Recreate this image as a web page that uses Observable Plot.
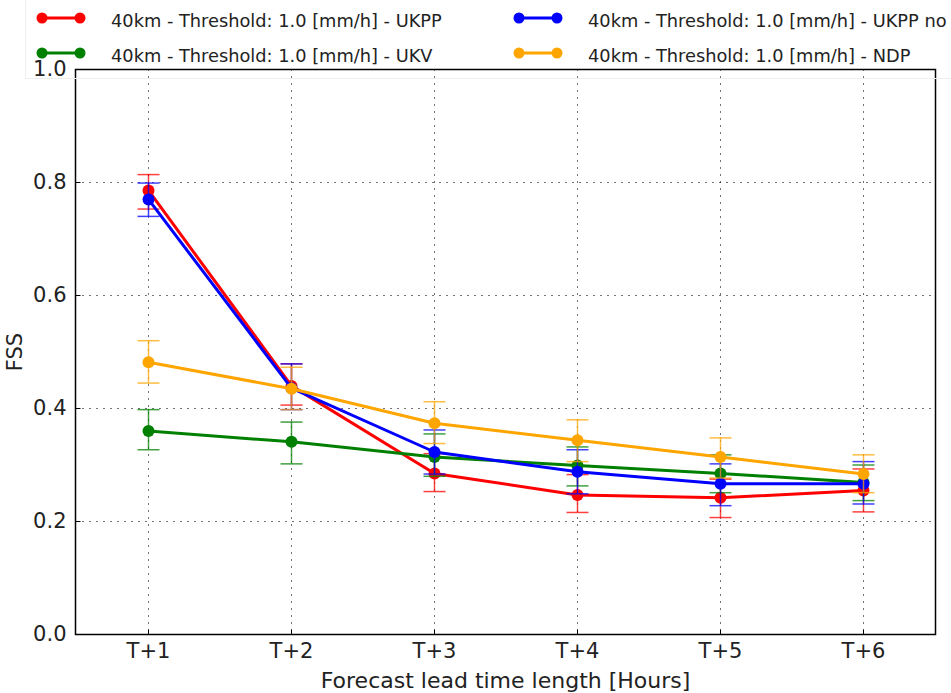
<!DOCTYPE html>
<html><head><meta charset="utf-8">
<script src="https://cdn.jsdelivr.net/npm/d3@7"></script>
<script src="https://cdn.jsdelivr.net/npm/@observablehq/plot@0.6"></script>
<style>
html,body{margin:0;padding:0;background:#fff;overflow:hidden;}
#wrap{position:relative;width:951px;height:693px;overflow:hidden;font-family:"DejaVu Sans",sans-serif;}
#legend{position:absolute;left:0;top:0;width:951px;height:80px;z-index:2;pointer-events:none;overflow:hidden;}
.item{position:absolute;white-space:nowrap;font-size:17.8px;color:#222;line-height:20px;}
.box{position:absolute;left:25px;top:-2px;width:1000px;height:79px;border:1px solid #eeeeee;}
</style></head>
<body><div id="wrap"><div id="legend"><div class="box"></div></div><div id="chart"></div></div>
<script>
const cats = ["T+1","T+2","T+3","T+4","T+5","T+6"];
const yTicks = [0,0.2,0.4,0.6,0.8,1.0];

const ukppName = "40km - Threshold: 1.0 [mm/h] - UKPP";
const ukpp   = [0.786, 0.440, 0.285, 0.247, 0.242, 0.255];
const ukppLo = [0.753, 0.406, 0.253, 0.216, 0.207, 0.217];
const ukppHi = [0.814, 0.479, 0.320, 0.283, 0.275, 0.293];

const ukvName = "40km - Threshold: 1.0 [mm/h] - UKV";
const ukv   = [0.360, 0.341, 0.314, 0.299, 0.285, 0.269];
const ukvLo = [0.327, 0.302, 0.280, 0.263, 0.251, 0.237];
const ukvHi = [0.398, 0.376, 0.355, 0.332, 0.318, 0.300];

const nowName = "40km - Threshold: 1.0 [mm/h] - UKPP no";
const now   = [0.770, 0.436, 0.323, 0.288, 0.267, 0.267];
const nowLo = [0.740, 0.398, 0.284, 0.249, 0.228, 0.231];
const nowHi = [0.799, 0.479, 0.362, 0.327, 0.302, 0.306];

const ndpName = "40km - Threshold: 1.0 [mm/h] - NDP";
const ndp   = [0.482, 0.435, 0.374, 0.344, 0.314, 0.284];
const ndpLo = [0.445, 0.398, 0.338, 0.306, 0.277, 0.251];
const ndpHi = [0.520, 0.473, 0.412, 0.380, 0.348, 0.318];

const series = [
  {name: ukppName, color: "#ff0000", v: ukpp, lo: ukppLo, hi: ukppHi},
  {name: ukvName,  color: "#008000", v: ukv,  lo: ukvLo,  hi: ukvHi},
  {name: nowName,  color: "#0000ff", v: now,  lo: nowLo,  hi: nowHi},
  {name: ndpName,  color: "#ffa500", v: ndp,  lo: ndpLo,  hi: ndpHi}
];

const capSym = {draw(ctx, size){ const r = Math.sqrt(size/Math.PI); ctx.moveTo(-r,0); ctx.lineTo(r,0); }};
const yTickSym = {draw(ctx, size){ const r = Math.sqrt(size/Math.PI); ctx.moveTo(0,0); ctx.lineTo(r,0); }};
const xTickSym = {draw(ctx, size){ const r = Math.sqrt(size/Math.PI); ctx.moveTo(0,0); ctx.lineTo(0,-r); }};

const marks = [
  Plot.gridY(yTicks, {stroke:"#000", strokeOpacity:0.55, strokeDasharray:"2,5", strokeWidth:1}),
  Plot.gridX(cats, {stroke:"#000", strokeOpacity:0.55, strokeDasharray:"2,5", strokeWidth:1})
];
for (const s of series) {
  const data = cats.map((c,i) => ({cat:c, v:s.v[i], lo:s.lo[i], hi:s.hi[i]}));
  marks.push(
    Plot.ruleX(data, {x:"cat", y1:"lo", y2:"hi", stroke:s.color, strokeWidth:1.5, strokeOpacity:0.75}),
    Plot.dot(data, {x:"cat", y:"lo", symbol:capSym, r:11, stroke:s.color, fill:"none", strokeWidth:1.5, strokeOpacity:0.75}),
    Plot.dot(data, {x:"cat", y:"hi", symbol:capSym, r:11, stroke:s.color, fill:"none", strokeWidth:1.5, strokeOpacity:0.75}),
    Plot.line(data, {x:"cat", y:"v", stroke:s.color, strokeWidth:3}),
    Plot.dot(data, {x:"cat", y:"v", r:6, fill:s.color, stroke:"none"})
  );
}
marks.push(
  Plot.dot(yTicks, {y:d=>d, frameAnchor:"left", symbol:yTickSym, r:5, stroke:"#000", strokeWidth:1}),
  Plot.dot(cats, {x:d=>d, frameAnchor:"bottom", symbol:xTickSym, r:5, stroke:"#000", strokeWidth:1}),
  Plot.frame({stroke:"#000", strokeWidth:1.5}),
  Plot.axisY(yTicks, {tickFormat:d3.format(".1f"), tickSize:0, tickPadding:9, label:null, fontSize:21, fill:"#222"}),
  Plot.axisX(cats, {tickSize:0, tickPadding:9, label:null, fontSize:21, fill:"#222"}),
  Plot.text(["Forecast lead time length [Hours]"], {text:d=>d, frameAnchor:"bottom", dy:46, fontSize:22, fill:"#222", textAnchor:"middle", lineAnchor:"middle"}),
  Plot.text(["FSS"], {text:d=>d, frameAnchor:"left", dx:-60, rotate:-90, fontSize:21, fill:"#222", textAnchor:"middle", lineAnchor:"middle"})
);

const chart = Plot.plot({
  width: 951, height: 693,
  marginLeft: 75, marginRight: 16, marginTop: 69, marginBottom: 59,
  x: {type:"point", domain: cats, padding: 0.5},
  y: {domain:[0,1]},
  style: {fontFamily:"DejaVu Sans", fontSize:"21px", background:"transparent", overflow:"visible"},
  marks
});
document.getElementById("chart").appendChild(chart);

// legend (matplotlib-style, 2 columns, column-major)
const legendPos = [
  {s: series[0], x: 42, tx: 111, y: 18},
  {s: series[1], x: 42, tx: 111, y: 53},
  {s: series[2], x: 519, tx: 588, y: 18},
  {s: series[3], x: 519, tx: 588, y: 53}
];
const leg = document.getElementById("legend");
for (const p of legendPos) {
  const sw = document.createElementNS("http://www.w3.org/2000/svg","svg");
  sw.setAttribute("width", 60); sw.setAttribute("height", 16);
  sw.style.position = "absolute"; sw.style.left = (p.x - 8) + "px"; sw.style.top = (p.y - 8) + "px";
  sw.innerHTML = `<line x1="8" x2="46" y1="8" y2="8" stroke="${p.s.color}" stroke-width="3"/>
    <circle cx="8" cy="8" r="5.5" fill="${p.s.color}"/><circle cx="46" cy="8" r="5.5" fill="${p.s.color}"/>`;
  leg.appendChild(sw);
  const t = document.createElement("div");
  t.className = "item"; t.textContent = p.s.name;
  t.style.left = p.tx + "px"; t.style.top = (p.y - 7) + "px";
  leg.appendChild(t);
}
</script></body></html>
